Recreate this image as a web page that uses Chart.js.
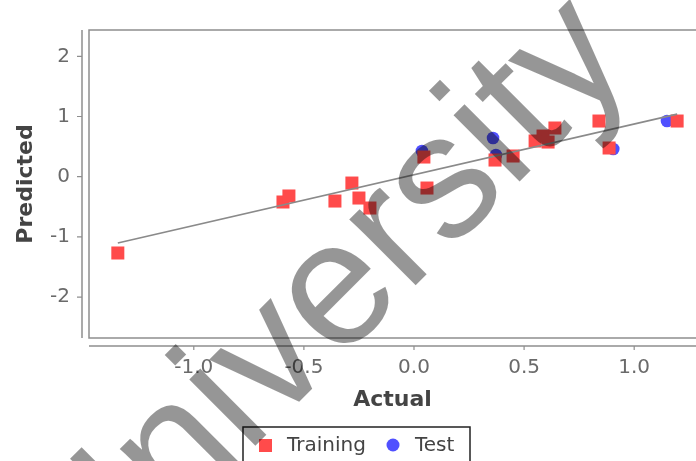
<!DOCTYPE html>
<html><head><meta charset="utf-8">
<style>html,body{margin:0;padding:0;background:#fff;}canvas{display:block;}</style>
<script src="https://cdn.jsdelivr.net/npm/chart.js@4.4.0/dist/chart.umd.min.js"></script>
</head><body>
<canvas id="c" width="696" height="461"></canvas>
<script>
// ---- data ----
const trainActual    = [-1.345, -0.595, -0.568, -0.359, -0.282, -0.250, -0.200, 0.045, 0.059, 0.368, 0.450, 0.550, 0.586, 0.609, 0.640, 0.840, 0.886, 1.195];
const trainPredicted = [-1.267, -0.420, -0.320, -0.404, -0.105, -0.354, -0.520, 0.327, -0.188, 0.277, 0.344, 0.593, 0.676, 0.576, 0.809, 0.925, 0.477, 0.925];
const testActual     = [0.036, 0.359, 0.372, 0.905, 1.149];
const testPredicted  = [0.427, 0.643, 0.360, 0.460, 0.925];
const fitActual      = [-1.345, 1.195];
const fitPredicted   = [-1.100, 1.040];
const xTicks = [-1.0, -0.5, 0.0, 0.5, 1.0];
const yTicks = [-2, -1, 0, 1, 2];
const seriesNames = ['Training', 'Test'];
const xTitle = 'Actual';
const yTitle = 'Predicted';
const watermarkText = 'University';

const toPts = (xs, ys) => xs.map((x, i) => ({x: x, y: ys[i]}));
const RED = '#ff4b4b', BLUE = '#5050ff';

const framePlugin = {
  id: 'frame',
  beforeDatasetsDraw(chart) {
    const {ctx, chartArea: a, scales} = chart;
    ctx.save();
    ctx.strokeStyle = '#8e8e8e';
    ctx.lineWidth = 1.5;
    ctx.beginPath();
    ctx.moveTo(a.right + 2, a.top); ctx.lineTo(a.left, a.top); ctx.lineTo(a.left, a.bottom); ctx.lineTo(a.right + 2, a.bottom);
    ctx.stroke();
    // offset axis lines
    const ax = a.left - 7, ay = a.bottom + 8;
    ctx.beginPath();
    ctx.moveTo(ax, a.top); ctx.lineTo(ax, a.bottom);
    ctx.moveTo(a.left, ay); ctx.lineTo(a.right + 2, ay);
    ctx.stroke();
    ctx.lineWidth = 1.2;
    ctx.beginPath();
    scales.y.ticks.forEach(t => { const p = scales.y.getPixelForValue(t.value); ctx.moveTo(ax - 5, p); ctx.lineTo(ax, p); });
    scales.x.ticks.forEach(t => { const p = scales.x.getPixelForValue(t.value); ctx.moveTo(p, ay); ctx.lineTo(p, ay + 4); });
    ctx.stroke();
    ctx.restore();
  },
  afterDraw(chart) {
    const {ctx} = chart;
    ctx.save();
    // legend
    const lx = 243, ly = 427;
    ctx.strokeStyle = '#222'; ctx.lineWidth = 1.5;
    ctx.strokeRect(lx, ly, 227, 60);
    ctx.font = '20px "DejaVu Sans"';
    ctx.textBaseline = 'middle'; ctx.textAlign = 'left';
    const ds = chart.data.datasets;
    ctx.fillStyle = ds[1].backgroundColor; ctx.fillRect(lx + 16, ly + 12, 13, 13);
    ctx.fillStyle = '#444'; ctx.fillText(ds[1].label, lx + 44, ly + 19);
    ctx.fillStyle = ds[2].backgroundColor; ctx.beginPath(); ctx.arc(lx + 150, ly + 18, 6.5, 0, Math.PI * 2); ctx.fill();
    ctx.fillStyle = '#444'; ctx.fillText(ds[2].label, lx + 172, ly + 19);
    // watermark
    ctx.translate(87, 614);
    ctx.rotate(-Math.PI / 4);
    ctx.font = '177px "Liberation Sans"';
    ctx.textBaseline = 'alphabetic';
    ctx.fillStyle = 'rgba(0,0,0,0.41)';
    ctx.fillText(watermarkText, 0, 0);
    ctx.restore();
  }
};

new Chart(document.getElementById('c'), {
  type: 'scatter',
  data: {
    datasets: [
      {type: 'line', label: 'fit', data: toPts(fitActual, fitPredicted), borderColor: '#8a8a8a', borderWidth: 1.6, pointRadius: 0, fill: false, order: 0},
      {label: seriesNames[0], data: toPts(trainActual, trainPredicted), pointStyle: 'rect', pointRadius: 9.2, backgroundColor: RED, borderWidth: 0, order: 1},
      {label: seriesNames[1], data: toPts(testActual, testPredicted), pointStyle: 'circle', pointRadius: 6.3, backgroundColor: BLUE, borderWidth: 0, order: 2}
    ]
  },
  options: {
    responsive: false, animation: false, devicePixelRatio: 1,
    layout: {autoPadding: false, padding: {top: 30, left: 0, right: 0, bottom: 0}},
    plugins: {legend: {display: false}, tooltip: {enabled: false}},
    scales: {
      x: {
        type: 'linear', min: -1.4759, max: 1.2807,
        grid: {display: false, drawTicks: false}, border: {display: false},
        afterBuildTicks: s => { s.ticks = xTicks.map(v => ({value: v})); },
        afterFit: s => { s.height = 123; s.paddingLeft = 0; s.paddingRight = 0; },
        ticks: {color: '#6a6a6a', font: {family: 'DejaVu Sans', size: 20}, padding: 18, callback: v => Number(v).toFixed(1), maxRotation: 0},
        title: {display: true, text: xTitle, color: '#444', font: {family: 'DejaVu Sans', size: 22, weight: 'bold'}, padding: {top: 0, bottom: 48}}
      },
      y: {
        type: 'linear', min: -2.679, max: 2.437,
        grid: {display: false, drawTicks: false}, border: {display: false},
        afterBuildTicks: s => { s.ticks = yTicks.map(v => ({value: v})); },
        afterFit: s => { s.width = 89; s.paddingTop = 0; s.paddingBottom = 0; },
        ticks: {color: '#6a6a6a', font: {family: 'DejaVu Sans', size: 20}, padding: 19, callback: v => String(v)},
        title: {display: true, text: yTitle, color: '#444', font: {family: 'DejaVu Sans', size: 22, weight: 'bold'}, padding: {top: 13, bottom: 0}}
      }
    }
  },
  plugins: [framePlugin]
});
</script>
</body></html>
